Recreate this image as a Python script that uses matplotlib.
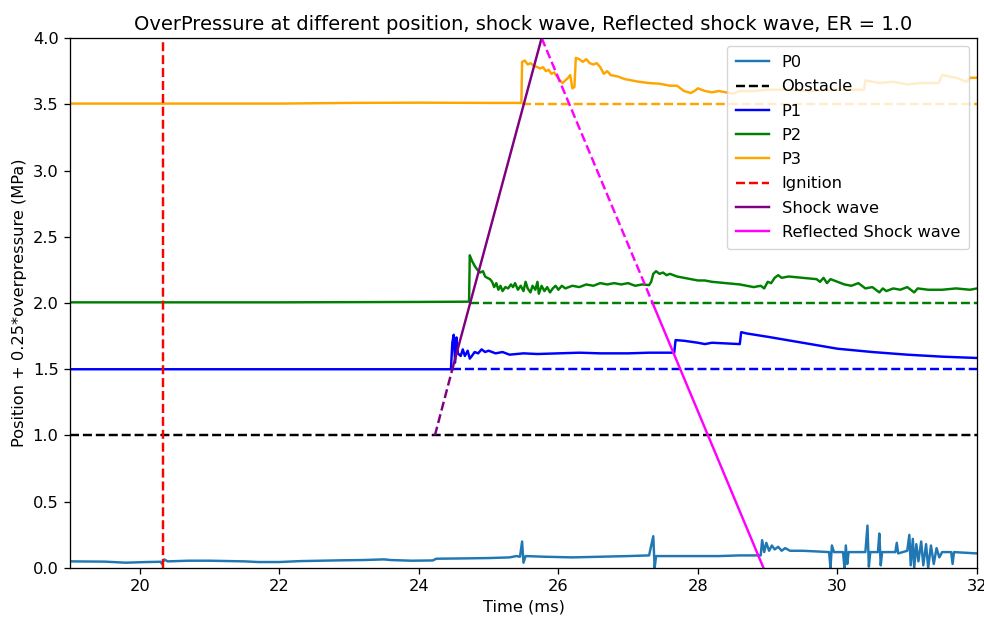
import matplotlib
matplotlib.use("Agg")
import matplotlib.pyplot as plt

# ---- data ----
p0_t = [19.0, 19.5, 19.8, 20.1, 20.3, 20.32, 20.35, 20.4, 20.7, 21.0, 21.5, 21.7, 22.0, 22.3, 22.6, 22.9,
        23.2, 23.5, 23.6, 23.9, 24.2, 24.25, 24.6, 25.0, 25.3, 25.4, 25.45, 25.48, 25.5, 25.53, 25.8, 26.2,
        26.6, 27.0, 27.3, 27.36, 27.38, 27.4, 27.8, 28.3, 28.6, 28.9, 28.92, 28.95, 28.98, 29.02, 29.06,
        29.1, 29.15, 29.2, 29.25, 29.32, 29.5, 29.7, 29.88, 29.9, 29.92, 29.95, 30.08, 30.1, 30.12, 30.14,
        30.16, 30.4, 30.43, 30.45, 30.47, 30.58, 30.6, 30.62, 30.64, 30.83, 30.85, 30.87, 31.0, 31.03,
        31.05, 31.08, 31.1, 31.13, 31.16, 31.2, 31.23, 31.27, 31.3, 31.34, 31.38, 31.42, 31.46, 31.5,
        31.63, 31.65, 31.67, 32.0]
p0_v = [0.05, 0.048, 0.040, 0.045, 0.047, 0.03, 0.065, 0.05, 0.055, 0.055, 0.05, 0.045, 0.045, 0.052,
        0.055, 0.058, 0.060, 0.065, 0.06, 0.055, 0.057, 0.07, 0.072, 0.075, 0.08, 0.09, 0.085, 0.20, 0.04,
        0.09, 0.085, 0.08, 0.085, 0.09, 0.095, 0.24, 0.0, 0.09, 0.09, 0.09, 0.095, 0.095, 0.21, 0.12, 0.19,
        0.13, 0.17, 0.14, 0.16, 0.13, 0.15, 0.13, 0.13, 0.125, 0.12, 0.0, 0.17, 0.12, 0.12, 0.0, 0.17,
        0.03, 0.12, 0.12, 0.32, 0.01, 0.12, 0.12, 0.26, 0.02, 0.12, 0.12, 0.19, 0.11, 0.13, 0.25, 0.02,
        0.22, 0.0, 0.18, 0.05, 0.2, 0.02, 0.18, 0.0, 0.17, 0.03, 0.15, 0.08, 0.12, 0.12, 0.03, 0.12, 0.11]

p1_t = [19.0, 24.46, 24.48, 24.50, 24.52, 24.54, 24.56, 24.60, 24.63, 24.66, 24.70, 24.73, 24.76, 24.80,
        24.85, 24.90, 24.95, 25.0, 25.1, 25.2, 25.3, 25.5, 25.7, 26.0, 26.3, 26.6, 27.0, 27.3, 27.66,
        27.68, 27.8, 28.0, 28.1, 28.2, 28.4, 28.6, 28.62, 28.7, 29.0, 29.5, 30.0, 30.5, 31.0, 31.5, 32.0]
p1_v = [1.50, 1.50, 1.70, 1.76, 1.55, 1.74, 1.62, 1.60, 1.65, 1.60, 1.64, 1.58, 1.60, 1.63, 1.62, 1.65,
        1.63, 1.64, 1.62, 1.63, 1.61, 1.62, 1.615, 1.62, 1.625, 1.62, 1.62, 1.625, 1.625, 1.72, 1.715,
        1.70, 1.69, 1.70, 1.695, 1.69, 1.78, 1.77, 1.745, 1.70, 1.655, 1.63, 1.61, 1.595, 1.585]

p2_t = [19.0, 22.0, 24.0, 24.72, 24.73, 24.76, 24.80, 24.84, 24.88, 24.92, 24.95, 24.98, 25.02, 25.05,
        25.08, 25.11, 25.14, 25.17, 25.20, 25.24, 25.28, 25.32, 25.35, 25.38, 25.42, 25.46, 25.50, 25.53,
        25.56, 25.60, 25.63, 25.67, 25.70, 25.72, 25.76, 25.80, 25.84, 25.88, 25.92, 25.96, 26.0, 26.05,
        26.1, 26.2, 26.3, 26.4, 26.5, 26.6, 26.7, 26.8, 26.9, 27.0, 27.1, 27.2, 27.3, 27.33, 27.36, 27.40,
        27.45, 27.50, 27.55, 27.6, 27.7, 27.8, 27.9, 28.0, 28.1, 28.2, 28.4, 28.6, 28.8, 28.9, 28.95,
        29.0, 29.05, 29.1, 29.15, 29.2, 29.3, 29.5, 29.7, 29.75, 29.8, 29.85, 29.9, 30.0, 30.1, 30.2,
        30.3, 30.4, 30.5, 30.6, 30.65, 30.7, 30.8, 30.9, 31.0, 31.1, 31.15, 31.3, 31.5, 31.7, 31.9, 32.0]
p2_v = [2.005, 2.005, 2.008, 2.01, 2.36, 2.32, 2.28, 2.25, 2.23, 2.24, 2.20, 2.19, 2.18, 2.16, 2.12,
        2.15, 2.10, 2.13, 2.09, 2.12, 2.11, 2.14, 2.12, 2.15, 2.10, 2.13, 2.09, 2.16, 2.11, 2.08, 2.13,
        2.10, 2.16, 2.07, 2.13, 2.09, 2.12, 2.08, 2.11, 2.13, 2.10, 2.13, 2.11, 2.13, 2.12, 2.14, 2.13,
        2.15, 2.14, 2.15, 2.14, 2.15, 2.13, 2.14, 2.135, 2.16, 2.22, 2.24, 2.22, 2.23, 2.21, 2.22, 2.20,
        2.19, 2.18, 2.17, 2.17, 2.16, 2.15, 2.14, 2.12, 2.13, 2.11, 2.16, 2.15, 2.19, 2.21, 2.19, 2.20,
        2.19, 2.18, 2.16, 2.19, 2.15, 2.18, 2.16, 2.14, 2.13, 2.15, 2.11, 2.12, 2.08, 2.11, 2.09, 2.11,
        2.10, 2.12, 2.08, 2.11, 2.10, 2.10, 2.11, 2.10, 2.11]

p3_t = [19.0, 22.0, 23.0, 24.0, 25.0, 25.47, 25.48, 25.52, 25.56, 25.60, 25.65, 25.70, 25.74, 25.78,
        25.82, 25.86, 25.90, 25.94, 25.98, 26.02, 26.06, 26.10, 26.14, 26.17, 26.20, 26.23, 26.25, 26.3,
        26.35, 26.4, 26.45, 26.5, 26.55, 26.6, 26.65, 26.7, 26.75, 26.85, 26.95, 27.05, 27.15, 27.3,
        27.45, 27.6, 27.7, 27.8, 27.9, 27.95, 28.0, 28.1, 28.2, 28.3, 28.5, 28.6, 28.8, 29.0, 29.3, 29.6,
        29.9, 30.2, 30.38, 30.4, 30.6, 30.8, 31.0, 31.2, 31.45, 31.5, 31.6, 31.7, 31.8, 31.85, 31.9, 32.0]
p3_v = [3.505, 3.505, 3.51, 3.512, 3.51, 3.51, 3.82, 3.83, 3.80, 3.81, 3.79, 3.78, 3.77, 3.78, 3.75,
        3.76, 3.73, 3.74, 3.71, 3.68, 3.66, 3.68, 3.70, 3.72, 3.62, 3.63, 3.85, 3.84, 3.82, 3.84, 3.81,
        3.80, 3.81, 3.78, 3.73, 3.75, 3.72, 3.71, 3.69, 3.68, 3.67, 3.66, 3.655, 3.64, 3.64, 3.60, 3.585,
        3.60, 3.62, 3.60, 3.59, 3.60, 3.58, 3.60, 3.60, 3.61, 3.61, 3.60, 3.61, 3.61, 3.61, 3.68, 3.66,
        3.67, 3.65, 3.66, 3.66, 3.72, 3.71, 3.70, 3.68, 3.67, 3.70, 3.70]

positions = [1.5, 2.0, 3.5]          # P1, P2, P3 rest levels
arrival = [24.47, 24.73, 25.48]      # shock arrival times (ms)
obstacle_pos = 1.0
ignition_t = 20.33

shock_t = [24.23, 24.48, 25.76]
shock_y = [1.0, 1.5, 4.0]
refl_t = [25.76, 27.35, 28.94]
refl_y = [4.0, 2.0, 0.0]

x_min, x_max = 19, 32
y_min, y_max = 0.0, 4.0

# ---- plot ----
S = 1.17
plt.rcParams.update({
    'font.size': 10 * S,
    'lines.linewidth': 1.5 * S,
    'axes.linewidth': 0.8 * S,
    'xtick.major.width': 0.8 * S,
    'ytick.major.width': 0.8 * S,
    'xtick.major.size': 3.5 * S,
    'ytick.major.size': 3.5 * S,
    'xtick.major.pad': 3.5 * S,
    'ytick.major.pad': 3.5 * S,
})
lw = 1.5 * S

fig = plt.figure(figsize=(9.84, 6.19), dpi=100)
ax = fig.add_axes([0.0711, 0.0824, 0.9218, 0.8562])

ax.plot(p0_t, p0_v, color='tab:blue', lw=lw, label='P0')
ax.axhline(obstacle_pos, color='black', ls='--', lw=lw, label='Obstacle')
ax.plot(p1_t, p1_v, color='blue', lw=lw, label='P1')
ax.plot(p2_t, p2_v, color='green', lw=lw, label='P2')
ax.plot(p3_t, p3_v, color='orange', lw=lw, label='P3')
for pos, t0, c in zip(positions, arrival, ['blue', 'green', 'orange']):
    ax.plot([t0, x_max], [pos, pos], color=c, ls='--', lw=lw)
ax.axvline(ignition_t, color='red', ls='--', lw=lw, label='Ignition')
ax.plot(shock_t[:2], shock_y[:2], color='purple', ls='--', lw=lw)
ax.plot(shock_t[1:], shock_y[1:], color='purple', lw=lw, label='Shock wave')
ax.plot(refl_t[:2], refl_y[:2], color='magenta', ls='--', lw=lw)
ax.plot(refl_t[1:], refl_y[1:], color='magenta', lw=lw, label='Reflected Shock wave')

ax.set_xlim(x_min, x_max)
ax.set_ylim(y_min, y_max)
ax.set_xlabel('Time (ms)')
ax.set_ylabel('Position + 0.25*overpressure (MPa)')
ax.set_title('OverPressure at different position, shock wave, Reflected shock wave, ER = 1.0')
ax.legend(loc='upper right', labelspacing=0.57, borderpad=0.55)

fig.savefig('out.png', dpi=100)
